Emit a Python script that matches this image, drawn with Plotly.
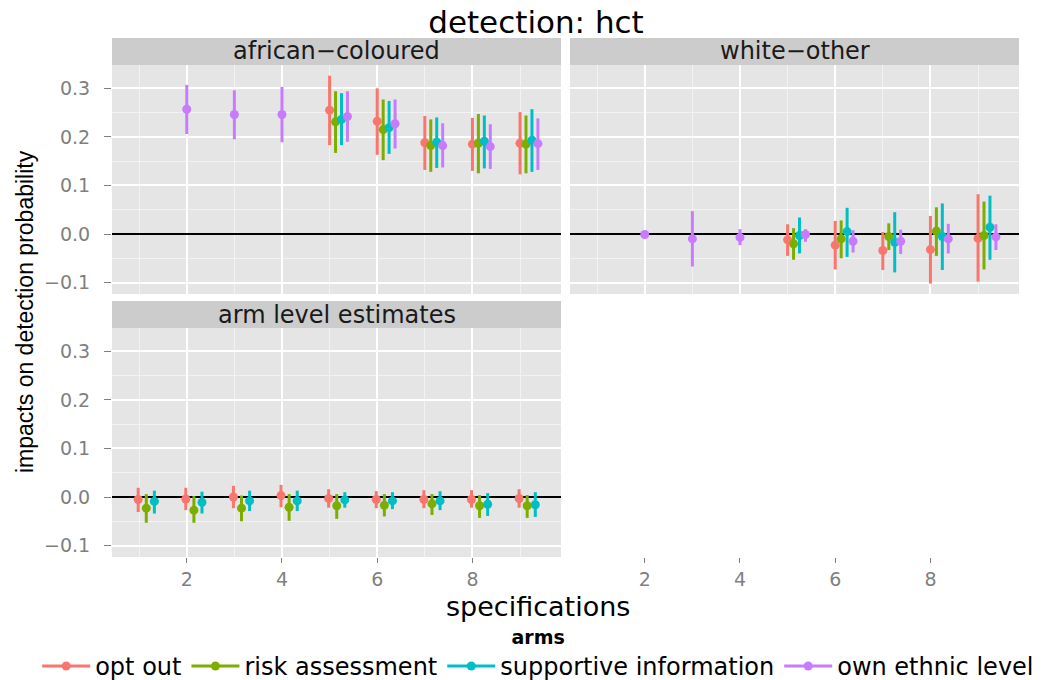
import plotly.graph_objects as go

# ---------------- data ----------------
arms = ["opt out", "risk assessment", "supportive information", "own ethnic level"]
colors = ["#F8766D", "#7CAE00", "#00BFC4", "#C77CFF"]
panels = ["african\u2212coloured", "white\u2212other", "arm level estimates"]

# african-coloured
ac_specs_arm = [5, 6, 7, 8, 9]
ac_specs_own = [2, 3, 4, 5, 6, 7, 8, 9]
ac_opt_est = [0.255, 0.232, 0.188, 0.185, 0.187]
ac_opt_lo = [0.183, 0.163, 0.132, 0.130, 0.123]
ac_opt_hi = [0.326, 0.300, 0.243, 0.239, 0.251]
ac_risk_est = [0.231, 0.215, 0.182, 0.187, 0.185]
ac_risk_lo = [0.167, 0.152, 0.128, 0.125, 0.125]
ac_risk_hi = [0.294, 0.277, 0.236, 0.247, 0.244]
ac_supp_est = [0.236, 0.219, 0.189, 0.191, 0.193]
ac_supp_lo = [0.183, 0.165, 0.136, 0.135, 0.128]
ac_supp_hi = [0.290, 0.274, 0.240, 0.244, 0.257]
ac_own_est = [0.257, 0.246, 0.246, 0.242, 0.227, 0.182, 0.180, 0.186]
ac_own_lo = [0.206, 0.195, 0.189, 0.190, 0.176, 0.137, 0.134, 0.132]
ac_own_hi = [0.307, 0.296, 0.303, 0.294, 0.277, 0.228, 0.226, 0.238]

# white-other
wo_specs_arm = [5, 6, 7, 8, 9]
wo_specs_own = [2, 3, 4, 5, 6, 7, 8, 9]
wo_opt_est = [-0.012, -0.023, -0.034, -0.032, -0.009]
wo_opt_lo = [-0.045, -0.073, -0.074, -0.102, -0.098]
wo_opt_hi = [0.020, 0.027, 0.004, 0.037, 0.082]
wo_risk_est = [-0.020, -0.010, -0.005, 0.006, -0.003]
wo_risk_lo = [-0.053, -0.050, -0.033, -0.045, -0.073]
wo_risk_hi = [0.012, 0.028, 0.022, 0.055, 0.067]
wo_supp_est = [-0.003, 0.005, -0.017, -0.005, 0.014]
wo_supp_lo = [-0.040, -0.047, -0.079, -0.074, -0.053]
wo_supp_hi = [0.034, 0.054, 0.045, 0.063, 0.079]
wo_own_est = [-0.001, -0.010, -0.007, -0.001, -0.015, -0.015, -0.010, -0.006]
wo_own_lo = [-0.004, -0.067, -0.023, -0.016, -0.038, -0.041, -0.040, -0.033]
wo_own_hi = [0.002, 0.047, 0.010, 0.010, 0.008, 0.009, 0.021, 0.020]

# arm level estimates
al_specs = [1, 2, 3, 4, 5, 6, 7, 8, 9]
al_opt_est = [-0.005, -0.004, 0.000, 0.003, -0.003, -0.005, -0.005, -0.005, -0.003]
al_opt_lo = [-0.031, -0.027, -0.023, -0.021, -0.022, -0.023, -0.023, -0.022, -0.022]
al_opt_hi = [0.019, 0.019, 0.023, 0.025, 0.016, 0.012, 0.014, 0.014, 0.016]
al_risk_est = [-0.023, -0.027, -0.023, -0.021, -0.018, -0.017, -0.014, -0.018, -0.018]
al_risk_lo = [-0.053, -0.053, -0.050, -0.049, -0.045, -0.040, -0.037, -0.043, -0.043]
al_risk_hi = [0.006, 0.002, 0.003, 0.006, 0.006, 0.006, 0.006, 0.004, 0.004]
al_supp_est = [-0.009, -0.011, -0.008, -0.008, -0.006, -0.008, -0.008, -0.015, -0.016]
al_supp_lo = [-0.034, -0.034, -0.029, -0.029, -0.022, -0.025, -0.027, -0.039, -0.041]
al_supp_hi = [0.013, 0.011, 0.013, 0.013, 0.010, 0.010, 0.012, 0.008, 0.010]

x_ticks = [2, 4, 6, 8]
y_ticks = [-0.1, 0.0, 0.1, 0.2, 0.3]
y_ticklabels = ["\u22120.1", "0.0", "0.1", "0.2", "0.3"]

# ---------------- style ----------------
FONT = "DejaVu Sans"
W, H = 1045, 680
col1 = [112 / W, 561 / W]
col2 = [570 / W, 1019 / W]
row1 = [1 - 294 / H, 1 - 65 / H]
row2 = [1 - 557 / H, 1 - 328 / H]
strip1 = [1 - 65 / H, 1 - 38 / H]
strip2 = [1 - 328 / H, 1 - 301 / H]
x_range = [0.43, 9.86]
y_range = [-0.1235, 0.348]

fig = go.Figure()

panel_data = {
    0: [(ac_specs_arm, ac_opt_est, ac_opt_lo, ac_opt_hi),
        (ac_specs_arm, ac_risk_est, ac_risk_lo, ac_risk_hi),
        (ac_specs_arm, ac_supp_est, ac_supp_lo, ac_supp_hi),
        (ac_specs_own, ac_own_est, ac_own_lo, ac_own_hi)],
    1: [(wo_specs_arm, wo_opt_est, wo_opt_lo, wo_opt_hi),
        (wo_specs_arm, wo_risk_est, wo_risk_lo, wo_risk_hi),
        (wo_specs_arm, wo_supp_est, wo_supp_lo, wo_supp_hi),
        (wo_specs_own, wo_own_est, wo_own_lo, wo_own_hi)],
    2: [(al_specs, al_opt_est, al_opt_lo, al_opt_hi),
        (al_specs, al_risk_est, al_risk_lo, al_risk_hi),
        (al_specs, al_supp_est, al_supp_lo, al_supp_hi)],
}
dodge_step = {0: 0.125, 1: 0.125, 2: 0.17}
axis_ids = {0: ("x", "y"), 1: ("x2", "y2"), 2: ("x3", "y3")}

for p, series in panel_data.items():
    xa, ya = axis_ids[p]
    counts = {}
    for specs, *_ in series:
        for s in specs:
            counts[s] = counts.get(s, 0) + 1
    for a, (specs, est, lo, hi) in enumerate(series):
        xs = [s + (a * dodge_step[p] if counts[s] > 1 else 0) - (0.02 if p == 2 else 0)
              for s in specs]
        fig.add_trace(go.Scatter(
            x=xs, y=est, xaxis=xa, yaxis=ya, mode="markers",
            marker=dict(color=colors[a], size=9, line=dict(width=0)),
            error_y=dict(type="data", symmetric=False,
                         array=[h - e for h, e in zip(hi, est)],
                         arrayminus=[e - l for e, l in zip(est, lo)],
                         color=colors[a], thickness=3, width=0),
            showlegend=False, legendgroup=arms[a], hoverinfo="skip"))

# legend entries
for a, name in enumerate(arms):
    fig.add_trace(go.Scatter(
        x=[None], y=[None], xaxis="x", yaxis="y", mode="lines+markers",
        name=name, legendgroup=name,
        line=dict(color=colors[a], width=3),
        marker=dict(color=colors[a], size=9)))

# empty trace to keep the bottom-right x axis
fig.add_trace(go.Scatter(x=[None], y=[None], xaxis="x4", yaxis="y4",
                         showlegend=False, hoverinfo="skip"))

tickfont = dict(family=FONT, size=19, color="#7F7F7F")

def xaxis(domain, anchor, labels, grid=True):
    return dict(domain=domain, anchor=anchor, range=x_range,
                tickmode="array", tickvals=x_ticks,
                ticktext=[str(t) for t in x_ticks],
                showticklabels=labels, ticks="outside" if labels else "",
                ticklen=5, tickwidth=1.2, tickcolor="#7F7F7F",
                tickfont=tickfont, showgrid=grid, gridcolor="white", gridwidth=2,
                minor=dict(tickmode="array", tickvals=[1, 3, 5, 7, 9],
                           showgrid=grid, gridcolor="#F2F2F2", gridwidth=1),
                zeroline=False, showline=False, fixedrange=True, automargin=False)

def yaxis(domain, anchor, labels, visible=True):
    return dict(domain=domain, anchor=anchor, range=y_range, visible=visible,
                tickmode="array", tickvals=y_ticks, ticktext=y_ticklabels,
                showticklabels=labels, ticks="outside" if labels else "",
                ticklen=7, tickwidth=1.2, tickcolor="#7F7F7F",
                ticklabelstandoff=10,
                tickfont=tickfont, showgrid=True, gridcolor="white", gridwidth=2,
                minor=dict(tickmode="array", tickvals=[-0.05, 0.05, 0.15, 0.25],
                           showgrid=True, gridcolor="#F2F2F2", gridwidth=1),
                zeroline=True, zerolinecolor="black", zerolinewidth=1.6,
                showline=False, fixedrange=True, automargin=False)

fig.update_layout(
    xaxis=xaxis(col1, "y", False),
    yaxis=yaxis(row1, "x", True),
    xaxis2=xaxis(col2, "y2", False),
    yaxis2=yaxis(row1, "x2", False),
    xaxis3=xaxis(col1, "y3", True),
    yaxis3=yaxis(row2, "x3", True),
    xaxis4=xaxis(col2, "y4", True, grid=False),
    yaxis4=dict(domain=row2, anchor="x4", range=y_range, visible=False, automargin=False),
)

shapes = []
for (xd, yd) in [(col1, row1), (col2, row1), (col1, row2)]:
    shapes.append(dict(type="rect", xref="paper", yref="paper",
                       x0=xd[0], x1=xd[1], y0=yd[0], y1=yd[1],
                       fillcolor="#E5E5E5", line=dict(width=0), layer="below"))
strips = [(col1, strip1), (col2, strip1), (col1, strip2)]
annotations = []
for (xd, yd), label in zip(strips, panels):
    shapes.append(dict(type="rect", xref="paper", yref="paper",
                       x0=xd[0], x1=xd[1], y0=yd[0], y1=yd[1],
                       fillcolor="#CCCCCC", line=dict(width=0), layer="below"))
    annotations.append(dict(text=label, xref="paper", yref="paper",
                            x=(xd[0] + xd[1]) / 2, y=(yd[0] + yd[1]) / 2,
                            xanchor="center", yanchor="middle", showarrow=False,
                            font=dict(family=FONT, size=24, color="#1A1A1A")))

annotations.append(dict(text="impacts on detection probability", xref="paper", yref="paper",
                        x=25 / W, y=1 - 312 / H, textangle=-90, showarrow=False,
                        xanchor="center", yanchor="middle",
                        font=dict(family="Liberation Sans", size=23, color="black")))
annotations.append(dict(text="specifications", xref="paper", yref="paper",
                        x=538 / W, y=1 - 606 / H, showarrow=False,
                        xanchor="center", yanchor="middle",
                        font=dict(family=FONT, size=27, color="black")))

fig.update_layout(
    width=W, height=H, margin=dict(l=0, r=0, t=0, b=0, autoexpand=False),
    paper_bgcolor="white", plot_bgcolor="rgba(0,0,0,0)",
    shapes=shapes, annotations=annotations,
    title=dict(text="detection: hct", x=536 / W, xanchor="center",
               y=1 - 22 / H, yanchor="middle",
               font=dict(family=FONT, size=31, color="black")),
    legend=dict(orientation="h", x=0.515, xanchor="center", y=-0.012, yanchor="bottom",
                title=dict(text="<b>arms</b>", side="top center",
                           font=dict(family=FONT, size=19, color="black")),
                font=dict(family=FONT, size=24, color="black"),
                itemwidth=48, tracegroupgap=0, bgcolor="rgba(0,0,0,0)"),
    showlegend=True,
)

fig.write_html("out.html")
